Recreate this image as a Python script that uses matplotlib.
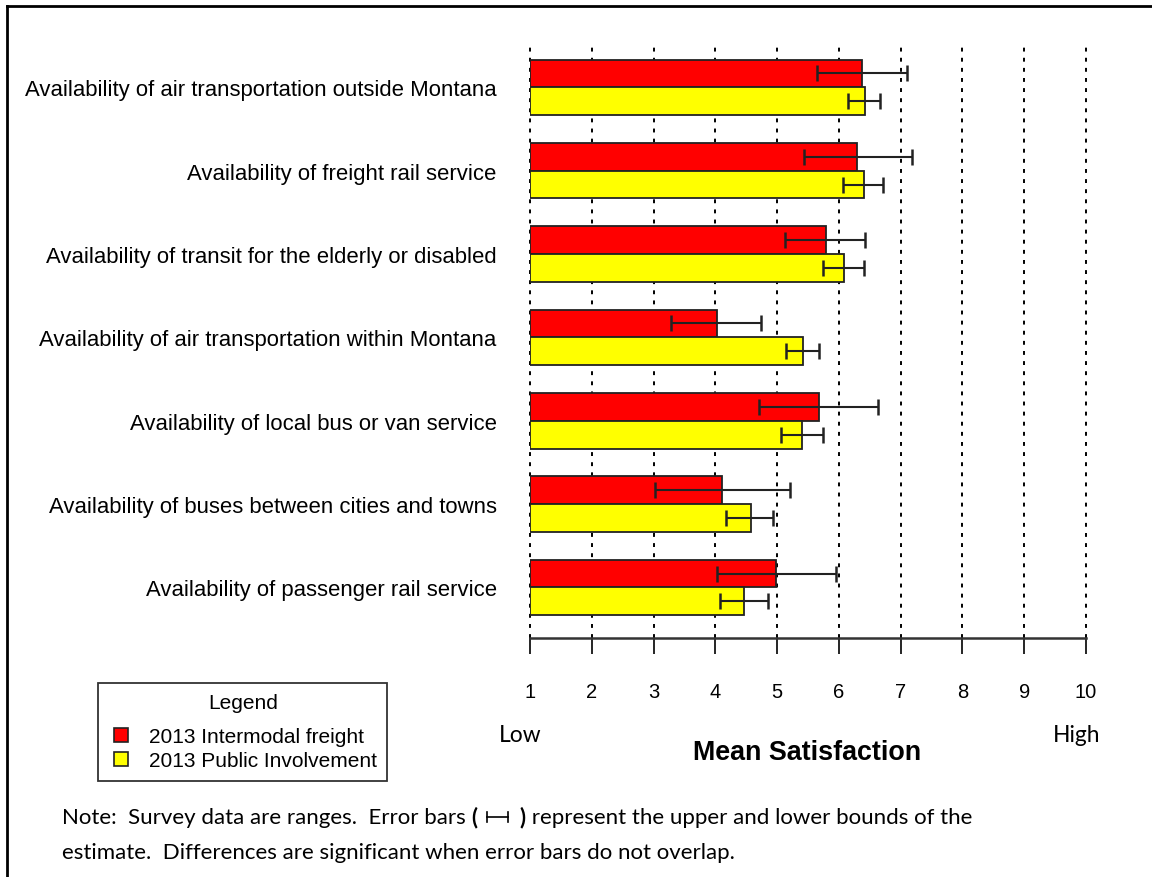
import matplotlib.pyplot as plt
import numpy as np
from matplotlib.lines import Line2D

categories = [
    "Availability of air transportation outside Montana",
    "Availability of freight rail service",
    "Availability of transit for the elderly or disabled",
    "Availability of air transportation within Montana",
    "Availability of local bus or van service",
    "Availability of buses between cities and towns",
    "Availability of passenger rail service",
]
freight_mean = np.array([6.37, 6.30, 5.79, 4.02, 5.68, 4.10, 4.99])
freight_low = np.array([5.65, 5.43, 5.12, 3.28, 4.71, 3.03, 4.02])
freight_high = np.array([7.11, 7.19, 6.42, 4.74, 6.64, 5.21, 5.95])
public_mean = np.array([6.42, 6.40, 6.09, 5.42, 5.40, 4.57, 4.46])
public_low = np.array([6.14, 6.06, 5.75, 5.15, 5.07, 4.18, 4.08])
public_high = np.array([6.67, 6.72, 6.40, 5.68, 5.75, 4.93, 4.85])
series_names = ["2013 Intermodal freight", "2013 Public Involvement"]
xticks = list(range(1, 11))

W, H = 1152, 878
fig = plt.figure(figsize=(W / 100, H / 100), dpi=100)
plt.rcParams['font.family'] = ['Liberation Sans', 'DejaVu Sans']

# axes placed in pixel terms: x 530..1086, y 43..639
ax = fig.add_axes([530 / W, 1 - 639 / H, 556 / W, 596 / H])

y = np.arange(len(categories))
h = 0.333
ax.barh(y - h / 2, freight_mean - 1, left=1, height=h, color='#ff0000',
        edgecolor='#222222', linewidth=1.3, zorder=2)
ax.barh(y + h / 2, public_mean - 1, left=1, height=h, color='#ffff00',
        edgecolor='#222222', linewidth=1.3, zorder=2)
ax.errorbar(freight_mean, y - h / 2,
            xerr=[freight_mean - freight_low, freight_high - freight_mean],
            fmt='none', ecolor='#222222', elinewidth=1.5, capsize=5.5,
            capthick=1.8, zorder=3)
ax.errorbar(public_mean, y + h / 2,
            xerr=[public_mean - public_low, public_high - public_mean],
            fmt='none', ecolor='#222222', elinewidth=1.5, capsize=5.5,
            capthick=1.8, zorder=3)

ax.set_xlim(1, 10)
ax.set_ylim(6.606, -0.543)
ax.set_xticks(xticks)
ax.set_xticklabels([str(t) for t in xticks], fontsize=14.5)
ax.set_yticks(y)
ax.set_yticklabels(categories, fontsize=15.9)
ax.tick_params(axis='y', length=0, pad=24)
ax.tick_params(axis='x', length=11.5, width=1.2, pad=20, direction='out')
for s in ['top', 'right', 'left']:
    ax.spines[s].set_visible(False)
ax.spines['bottom'].set_linewidth(1.8)
ax.spines['bottom'].set_color('#333333')
ax.grid(axis='x', color='black', linestyle=(0, (2, 3.2)), linewidth=1.4)
for gl in ax.get_xgridlines():
    gl.set_clip_on(False)
ax.set_axisbelow(True)

# Low / High and axis title
fig.text(520 / W, 1 - 736 / H, "Low", fontsize=16.4, family=['Lato', 'DejaVu Sans'],
         ha='center', va='center')
fig.text(1077 / W, 1 - 736 / H, "High", fontsize=16.4, family=['Lato', 'DejaVu Sans'],
         ha='center', va='center')
fig.text(807 / W, 1 - 753 / H, "Mean Satisfaction", fontsize=19.4, fontweight='bold',
         ha='center', va='center')

# legend
handles = [Line2D([], [], marker='s', linestyle='none', markersize=10,
                  markerfacecolor=c, markeredgecolor='#222222', markeredgewidth=1.2)
           for c in ['#ff0000', '#ffff00']]
leg = fig.legend(handles, series_names, title="Legend", loc='upper left',
                 bbox_to_anchor=(98 / W, 1 - 684 / H), fontsize=15,
                 title_fontsize=15, frameon=True, fancybox=False,
                 edgecolor='black', handlelength=1.2, handletextpad=0.75,
                 borderpad=0.5, labelspacing=0.25, borderaxespad=0)
leg.get_frame().set_linewidth(1.3)
leg._legend_box.sep = 10.5

# note text
note_font = ['Lato', 'DejaVu Sans']
nfs = 16
fig.canvas.draw()
r = fig.canvas.get_renderer()
x0 = 62 / W
yl1 = 1 - 818 / H
t1 = fig.text(x0, yl1, "Note:  Survey data are ranges.  Error bars ", fontsize=nfs,
              family=note_font, va='center')
bb = t1.get_window_extent(r)
xp = bb.x1 / W
t2 = fig.text(xp, yl1, "(", fontsize=nfs, family=note_font, fontweight='bold', va='center')
bb = t2.get_window_extent(r)
gx0 = bb.x1 + 9
gx1 = gx0 + 21
yc = yl1 * H
fig.add_artist(Line2D([gx0 / W, gx1 / W], [yc / H, yc / H], color='black', lw=1.2))
for gx in (gx0, gx1):
    fig.add_artist(Line2D([gx / W, gx / W], [(yc - 5) / H, (yc + 5) / H], color='black', lw=1.2))
t3 = fig.text((gx1 + 12) / W, yl1, ")", fontsize=nfs, family=note_font,
              fontweight='bold', va='center')
bb = t3.get_window_extent(r)
fig.text(bb.x1 / W, yl1, " represent the upper and lower bounds of the", fontsize=nfs,
         family=note_font, va='center')
fig.text(x0, 1 - 853 / H,
         "estimate.  Differences are significant when error bars do not overlap.",
         fontsize=nfs, family=note_font, va='center')

# outer frame (top and left edges)
fig.add_artist(Line2D([7 / W, 1], [1 - 7 / H, 1 - 7 / H], color='black', lw=2))
fig.add_artist(Line2D([7 / W, 7 / W], [0, 1 - 7 / H], color='black', lw=2))

fig.savefig("out.png", dpi=100)
